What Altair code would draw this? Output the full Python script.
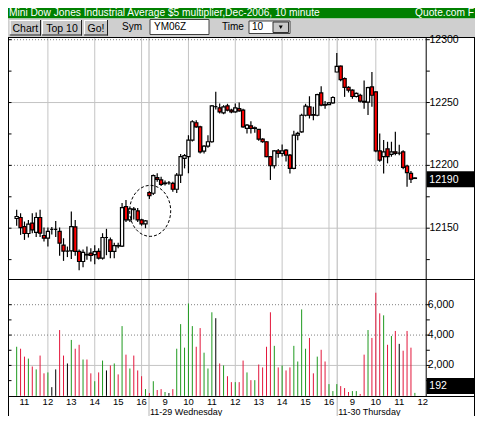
import altair as alt
import pandas as pd

# ---------------- values ----------------
opens = [12157.7, 12158.5, 12151.3, 12145.8, 12154.0, 12146.6, 12158.5, 12144.2, 12142.1, 12149.0,
         12149.0, 12147.4, 12136.5, 12131.8, 12132.0, 12151.0, 12131.5, 12123.5, 12129.2, 12130.2,
         12129.0, 12131.5, 12126.2, 12142.6, 12140.7, 12131.5, 12136.2, 12135.8, 12167.2, 12156.6,
         12165.3, 12163.8, 12156.6, 12153.4, 12178.3, 12177.8, 12190.2, 12188.4, 12185.5, 12186.0,
         12185.7, 12181.0, 12192.3, 12205.6, 12206.9, 12220.1, 12233.9, 12230.7, 12211.4, 12215.3,
         12218.8, 12246.8, 12245.8, 12241.8, 12247.4, 12243.9, 12242.6, 12245.2, 12243.9, 12229.4,
         12231.5, 12229.4, 12228.6, 12220.9, 12218.8, 12206.9, 12199.7, 12211.6, 12209.5, 12212.2,
         12208.2, 12197.6, 12224.1, 12226.7, 12239.9, 12246.6, 12240.4, 12239.9, 12257.7, 12248.4,
         12248.4, 12249.7, 12274.3, 12279.0, 12269.0, 12262.0, 12259.8, 12254.8, 12255.8, 12251.0,
         12250.3, 12262.4, 12258.5, 12211.5, 12206.9, 12213.2, 12208.7, 12210.8, 12209.8, 12210.8,
         12199.5, 12193.7, 12189.6]
highs = [12164.6, 12161.9, 12155.3, 12156.6, 12161.9, 12162.4, 12164.6, 12150.5, 12150.5, 12151.0,
         12155.8, 12150.5, 12142.0, 12135.4, 12163.2, 12156.6, 12133.0, 12133.0, 12135.4, 12134.1,
         12136.5, 12134.1, 12146.0, 12149.5, 12142.5, 12138.5, 12138.5, 12170.0, 12172.5, 12166.5,
         12166.8, 12166.0, 12157.5, 12156.5, 12179.5, 12192.8, 12193.7, 12191.0, 12188.0, 12187.5,
         12187.0, 12194.0, 12209.0, 12209.0, 12224.0, 12236.0, 12236.0, 12231.5, 12216.0, 12224.0,
         12248.0, 12258.5, 12249.2, 12247.9, 12249.0, 12245.0, 12249.2, 12250.0, 12245.0, 12233.0,
         12235.2, 12231.0, 12229.0, 12221.5, 12219.0, 12207.5, 12212.2, 12213.0, 12216.7, 12213.0,
         12209.0, 12227.5, 12226.7, 12241.0, 12249.0, 12255.0, 12246.6, 12257.0, 12263.0, 12251.3,
         12250.5, 12255.0, 12289.5, 12279.5, 12270.0, 12263.0, 12260.5, 12258.0, 12257.0, 12267.5,
         12262.5, 12274.3, 12259.0, 12225.4, 12220.1, 12218.8, 12218.8, 12226.7, 12216.5, 12212.0,
         12200.5, 12195.5, 12190.3]
lows = [12152.0, 12144.7, 12140.7, 12142.6, 12146.0, 12143.0, 12143.0, 12139.5, 12135.5, 12145.0,
        12143.0, 12128.0, 12124.0, 12127.0, 12125.5, 12128.0, 12116.5, 12119.0, 12124.9, 12123.5,
        12121.4, 12125.0, 12125.0, 12128.5, 12126.0, 12126.0, 12134.0, 12135.0, 12155.0, 12155.0,
        12157.0, 12155.0, 12152.0, 12150.0, 12173.3, 12176.5, 12187.0, 12183.5, 12184.0, 12184.5,
        12179.0, 12178.0, 12186.0, 12197.6, 12193.7, 12219.0, 12230.0, 12209.5, 12209.5, 12214.0,
        12218.0, 12244.5, 12241.3, 12240.7, 12243.0, 12241.5, 12241.8, 12242.6, 12230.0, 12225.4,
        12225.4, 12226.0, 12219.5, 12218.0, 12206.5, 12188.4, 12197.6, 12206.0, 12207.0, 12203.0,
        12193.6, 12197.0, 12220.0, 12226.0, 12239.0, 12237.3, 12236.0, 12239.0, 12247.0, 12245.0,
        12248.0, 12249.0, 12274.0, 12267.0, 12254.5, 12258.0, 12253.0, 12254.0, 12250.0, 12245.0,
        12240.0, 12246.6, 12210.5, 12202.9, 12193.6, 12201.6, 12206.9, 12208.0, 12208.0, 12197.0,
        12183.0, 12186.0, 12189.5]
closes = [12159.3, 12150.5, 12145.8, 12153.2, 12148.7, 12158.5, 12146.1, 12142.1, 12147.4, 12149.0,
          12149.0, 12138.1, 12131.8, 12131.8, 12151.3, 12131.5, 12123.5, 12130.7, 12128.7, 12128.3,
          12131.3, 12126.2, 12142.6, 12142.6, 12131.5, 12136.2, 12135.8, 12166.4, 12156.6, 12165.3,
          12164.8, 12156.6, 12153.4, 12155.8, 12175.9, 12191.8, 12188.9, 12184.9, 12186.0, 12186.0,
          12181.0, 12192.3, 12206.9, 12207.7, 12220.1, 12234.7, 12230.7, 12210.8, 12215.3, 12218.8,
          12247.4, 12246.8, 12242.6, 12246.6, 12243.9, 12242.6, 12245.8, 12243.4, 12230.7, 12232.0,
          12229.4, 12229.9, 12220.9, 12218.8, 12206.9, 12199.7, 12211.6, 12209.5, 12211.6, 12208.2,
          12197.6, 12224.1, 12225.4, 12239.9, 12247.1, 12239.9, 12239.9, 12256.3, 12247.9, 12247.9,
          12249.7, 12254.0, 12278.8, 12268.3, 12262.0, 12259.8, 12254.8, 12257.3, 12251.2, 12250.3,
          12261.8, 12255.8, 12211.5, 12204.2, 12210.8, 12206.9, 12210.8, 12209.5, 12209.8, 12198.4,
          12194.2, 12189.0, 12190.0]
volumes = [3230, 3100, 2580, 2450, 1930, 1740, 2650, 1480, 1540, 570,
           1740, 4330, 2650, 2130, 3680, 3100, 3360, 2390, 2390, 1480,
           960, 1540, 2320, 1670, 2000, 2130, 1410, 4590, 2710, 1800,
           2650, 1670, 1290, 440, 180, 960, 380, 440, 250, 180,
           440, 3100, 4720, 3170, 6080, 4590, 3230, 4460, 2840, 1800,
           5500, 5110, 2130, 2000, 1290, 900, 900, 900, 2320, 1540,
           1030, 1030, 2060, 1870, 3230, 5500, 3290, 1870, 2000, 1670,
           1870, 3290, 2260, 5690, 3100, 3810, 1480, 2580, 3030, 2260,
           770, 310, 770, 640, 510, 250, 310, 310, 120, 2710,
           4330, 3810, 6790, 5430, 5300, 3360, 3940, 4270, 3420, 2970,
           4270, 3170, 192]
vol_colors = list("grrgrgrrgk" "krrkgrrgrr" "grgkrgrgrg" "rrrgrgrrgk" "rgggggrrgg"
                  "gkrgrrgrrg" "rgrrrrgrgr" "rggggrrgrr" "gggrrrggrr" "grrrgrgrkr" "rrg")

hour_idx = [2, 8, 14, 20, 26, 32, 38, 44, 50, 56, 62, 68, 74, 80, 86, 92, 98, 104]
hour_lbl = ["11", "12", "13", "14", "15", "16", "9", "10", "11", "12",
            "13", "14", "15", "16", "9", "10", "11", "12"]
grid_idx = [8, 20, 32, 44, 56, 68, 80, 92]
day_idx = [33.9, 82.1]
day_lbl = ["11-29 Wednesday", "11-30 Thursday"]
price_lbl_vals = [12150, 12200, 12250, 12300]
price_tick_vals = [12125, 12150, 12175, 12200, 12225, 12250, 12275, 12300]
price_grid_dotted = [12200, 12300]
price_grid_solid = [12150, 12250]
vol_lbl_vals = [2000, 4000, 6000]
vol_tick_vals = [1000, 2000, 3000, 4000, 5000, 6000]
vol_grid_dotted = [4000, 6000]
vol_grid_solid = [2000]
last_price = 12190
last_volume = 192
circle_i = [34.2]
circle_p = [12163.8]
title_text = "Mini Dow Jones Industrial Average $5 multiplier,Dec-2006, 10 minute"

# ---------------- layout ----------------
W, H = 467, 408
FONT = "Liberation Sans"
one = pd.DataFrame({"k": [0]})
AX = 388.5  # bottom axis line

xs = alt.Scale(domain=[0, 104], range=[3.67, 419.67], nice=False, zero=False)
ps = alt.Scale(domain=[12150, 12300], range=[220.2, 31.7], nice=False, zero=False)
vs = alt.Scale(domain=[0, 6000], range=[387.8, 296.7], nice=False, zero=False)
X = lambda f: alt.X(f, scale=xs, axis=None)
YP = lambda f: alt.Y(f, scale=ps, axis=None)
YV = lambda f: alt.Y(f, scale=vs, axis=None)


def T(x, y, s, size=10.5, color="black", align="left", baseline="alphabetic"):
    return alt.Chart(one).mark_text(text=s, font=FONT, fontSize=size, color=color,
                                    align=align, baseline=baseline).encode(
        x=alt.value(x), y=alt.value(y))


def R(x0, y0, x1, y1, fill, stroke=None, sw=1.0):
    kw = dict(fill=fill, strokeWidth=0)
    if stroke:
        kw.update(stroke=stroke, strokeWidth=sw)
    return alt.Chart(one).mark_rect(**kw).encode(
        x=alt.value(x0), x2=alt.value(x1), y=alt.value(y0), y2=alt.value(y1))


def HL(x0, x1, y, color="black", sw=1.0):
    return alt.Chart(one).mark_rule(color=color, strokeWidth=sw).encode(
        x=alt.value(x0), x2=alt.value(x1), y=alt.value(y))


def VLn(x, y0, y1, color="black", sw=1.0):
    return alt.Chart(one).mark_rule(color=color, strokeWidth=sw).encode(
        x=alt.value(x), y=alt.value(y0), y2=alt.value(y1))


def button(x0, y0, x1, y1, label):
    return [R(x0, y0, x1, y1, "#c8c8c8"),
            HL(x0, x1, y0 + 0.5, "#ffffff"), VLn(x0 + 0.5, y0, y1, "#ffffff"),
            HL(x0, x1, y1 - 0.5, "#202020"), VLn(x1 - 0.5, y0, y1, "#202020"),
            T((x0 + x1) / 2, 23.6, label, align="center")]


n = len(opens)
cdf = pd.DataFrame({"i": range(n), "o": opens, "h": highs, "l": lows, "c": closes})
cdf["lo"] = cdf[["o", "c"]].min(axis=1)
cdf["hi"] = cdf[["o", "c"]].max(axis=1)
cdf["dir"] = ["up" if c >= o else "down" for o, c in zip(opens, closes)]
vdf = pd.DataFrame({"i": range(n), "v": volumes, "v0": 0, "vc": vol_colors})

layers = []
# header
layers += [R(0, 0, W, 10.5, "#008000"),
           T(1, 8.4, title_text, 10.2, "white"),
           T(466, 8.4, "Quote.com F", 10.2, "white", align="right"),
           R(0, 10.5, W, 29, "#cfcfcf"),
           HL(0, W, 29.5, "black", 1.2)]
layers += button(1.7, 12, 33, 27.5, "Chart")
layers += button(34, 12, 74, 27.5, "Top 10")
layers += button(76, 12, 100, 27.5, "Go!")
layers += [T(114, 22, "Sym", 10),
           R(142, 11.5, 201, 26.5, "white", "#404040", 1),
           T(146, 21.5, "YM06Z", 10),
           T(214, 22, "Time", 10),
           R(241, 13, 282, 25.5, "white", "#404040", 1),
           T(244, 22.3, "10", 10),
           R(265, 14, 280.5, 24.5, "#c8c8c8", "#303030", 1),
           alt.Chart(one).mark_point(shape="triangle-down", filled=True, color="black",
                                     size=16, opacity=1).encode(
               x=alt.value(272.75), y=alt.value(19.3))]

# grids
layers.append(alt.Chart(pd.DataFrame({"i": grid_idx})).mark_rule(color="#c4c4c4", strokeWidth=1).encode(
    x=X("i:Q"), y=alt.value(30), y2=alt.value(AX)))
layers.append(alt.Chart(pd.DataFrame({"i": day_idx})).mark_rule(color="#b4b4b4", strokeWidth=1).encode(
    x=X("i:Q"), y=alt.value(30), y2=alt.value(H)))
layers.append(alt.Chart(pd.DataFrame({"p": price_grid_solid})).mark_rule(color="#c4c4c4", strokeWidth=1).encode(
    y=YP("p:Q"), x=alt.value(0), x2=alt.value(418)))
layers.append(alt.Chart(pd.DataFrame({"p": price_grid_dotted})).mark_rule(
    color="#808080", strokeWidth=1, strokeDash=[1, 2]).encode(
    y=YP("p:Q"), x=alt.value(0), x2=alt.value(418)))
layers.append(alt.Chart(pd.DataFrame({"v": vol_grid_solid})).mark_rule(color="#c4c4c4", strokeWidth=1).encode(
    y=YV("v:Q"), x=alt.value(0), x2=alt.value(418)))
layers.append(alt.Chart(pd.DataFrame({"v": vol_grid_dotted})).mark_rule(
    color="#808080", strokeWidth=1, strokeDash=[1, 2]).encode(
    y=YV("v:Q"), x=alt.value(0), x2=alt.value(418)))

# volume bars
layers.append(alt.Chart(vdf).mark_rule(strokeWidth=1).encode(
    x=X("i:Q"), y=YV("v0:Q"), y2="v:Q",
    color=alt.Color("vc:N", scale=alt.Scale(domain=["g", "r", "k"],
                                            range=["#1f9a1f", "#e3163b", "#000000"]), legend=None)))

# candles
layers.append(alt.Chart(cdf).mark_rule(color="black", strokeWidth=1.2).encode(
    x=X("i:Q"), y=YP("l:Q"), y2="h:Q"))
layers.append(alt.Chart(cdf).mark_bar(size=3.2, stroke="black", strokeWidth=1.2).encode(
    x=X("i:Q"), y=YP("lo:Q"), y2="hi:Q",
    color=alt.Color("dir:N", scale=alt.Scale(domain=["up", "down"], range=["#ffffff", "#ff0000"]),
                    legend=None)))

# circled annotation
ellipse = "M -0.804 0 A 0.804 1 0 1 0 0.804 0 A 0.804 1 0 1 0 -0.804 0 Z"
layers.append(alt.Chart(pd.DataFrame({"i": circle_i, "p": circle_p})).mark_point(
    shape=ellipse, size=2601, filled=False, color="black", strokeWidth=1,
    strokeDash=[3, 2], opacity=1).encode(x=X("i:Q"), y=YP("p:Q")))

# frame
layers += [VLn(0.5, 30, H), VLn(418.2, 30, AX), VLn(466.5, 30, H),
           HL(0, W, 271.5, "black", 1.2), HL(0, W, AX, "black", 1.2)]

# ticks
for xa, xb in [(418.2, 421.8), (0, 3.5)]:
    layers.append(alt.Chart(pd.DataFrame({"p": price_tick_vals})).mark_rule(color="black").encode(
        y=YP("p:Q"), x=alt.value(xa), x2=alt.value(xb)))
    layers.append(alt.Chart(pd.DataFrame({"v": vol_tick_vals})).mark_rule(color="black").encode(
        y=YV("v:Q"), x=alt.value(xa), x2=alt.value(xb)))

# axis labels
layers.append(alt.Chart(pd.DataFrame({"p": price_lbl_vals, "t": [str(v) for v in price_lbl_vals]})).mark_text(
    font=FONT, fontSize=10.5, align="left", baseline="middle", color="black").encode(
    y=YP("p:Q"), x=alt.value(421.5), text="t:N"))
layers.append(alt.Chart(pd.DataFrame({"v": vol_lbl_vals, "t": [f"{v:,}" for v in vol_lbl_vals]})).mark_text(
    font=FONT, fontSize=10.5, align="left", baseline="middle", color="black").encode(
    y=YV("v:Q"), x=alt.value(419.8), text="t:N"))
layers.append(alt.Chart(pd.DataFrame({"i": hour_idx, "t": hour_lbl})).mark_text(
    font=FONT, fontSize=9.5, align="center", baseline="alphabetic", color="black").encode(
    x=X("i:Q"), y=alt.value(397.2), text="t:N"))
layers.append(alt.Chart(pd.DataFrame({"i": day_idx, "t": day_lbl})).mark_text(
    font=FONT, fontSize=9, align="left", baseline="alphabetic", color="black", dx=1).encode(
    x=X("i:Q"), y=alt.value(406.8), text="t:N"))

# last value boxes
layers += [R(418.7, 163.3, W, 179.3, "black"),
           T(421.3, 171.5, str(last_price), 10.5, "white", baseline="middle"),
           R(418.7, 369.9, W, 386.1, "black"),
           T(421.3, 378.3, str(last_volume), 10.5, "white", baseline="middle")]

chart = alt.layer(*layers).resolve_scale(y="independent", color="independent").properties(
    width=W, height=H, padding=0, autosize=alt.AutoSizeParams(type="none"), background="white"
).configure_view(strokeWidth=0)

chart.save("out.html", embed_options={"renderer": "svg", "actions": False})
